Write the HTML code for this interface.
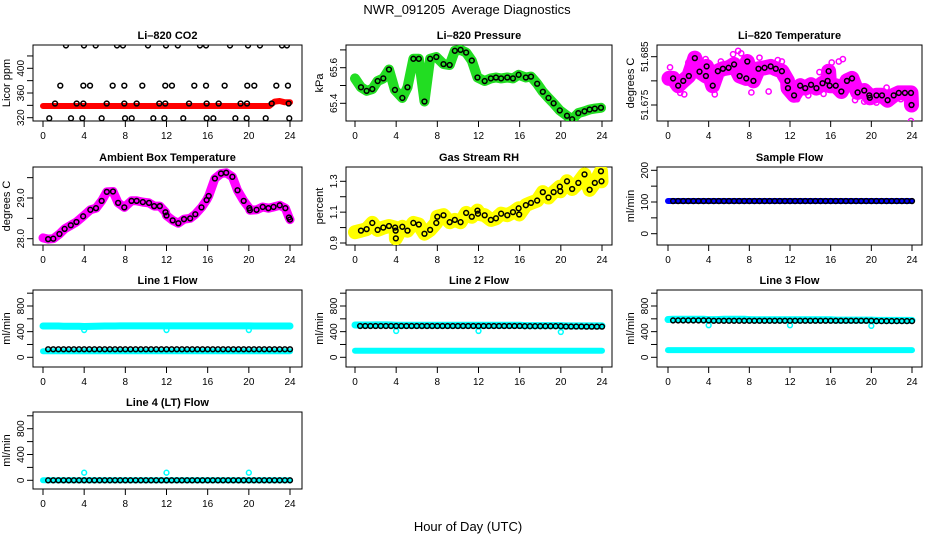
<!DOCTYPE html>
<html><head><meta charset="utf-8"><style>
html,body{margin:0;padding:0;background:#fff;}
svg{display:block;font-family:"Liberation Sans",Arial,sans-serif;}
</style></head><body>
<svg id="chart" width="936" height="540" viewBox="0 0 936 540" xmlns="http://www.w3.org/2000/svg">
<rect width="936" height="540" fill="#fff"/>
<text x="467" y="14" font-size="13" text-anchor="middle" style="white-space:pre">NWR_091205  Average Diagnostics</text>
<text x="468" y="531" font-size="13" text-anchor="middle">Hour of Day (UTC)</text>
</svg>
<script>
// ---------- data ----------
const xTicks = [0,4,8,12,16,20,24];
const halfHours = [0,0.5,1,1.5,2,2.5,3,3.5,4,4.5,5,5.5,6,6.5,7,7.5,8,8.5,9,9.5,10,10.5,11,11.5,12,12.5,13,13.5,14,14.5,15,15.5,16,16.5,17,17.5,18,18.5,19,19.5,20,20.5,21,21.5,22,22.5,23,23.5,24];

// CO2
const co2Red = [339,339,339,339,339,339,339,339,339,339,339,339,339,339,339,339,339,339,339,339,339,339,339,339,339,339,339,339,339,339,339,339,339,339,339,339,339,339,339,339,339,339,339,339,339,346,347,345,345];
const co2BlackHours = [2.23,3.98,5.12,7.19,7.77,10.2,11.95,13.1,15.25,15.84,18.17,19.92,21.08,23.22,23.7,
 1.68,3.92,4.57,6.77,7.9,9.65,11.88,12.53,14.7,15.84,17.65,19.85,20.53,22.67,23.8,
 1.17,3.27,3.92,6.19,7.9,9.1,11.3,11.88,14.19,15.9,17.07,19.2,19.82,22.22,23.87,
 0.61,2.72,3.82,5.7,7.97,8.62,10.72,11.79,13.63,15.9,16.55,18.69,19.79,21.64,23.93];
const co2BlackVals = [437,437,437,437,437,437,437,437,437,437,437,437,437,437,437,
 372,372,372,372,372,372,372,372,372,372,372,372,372,372,372,
 343,343,343,343,343,343,343,343,343,343,343,343,343,343,343,
 319,319,319,319,319,319,319,319,319,319,319,319,319,319,319];

// Pressure
const pressHours = [0,0.58,1.13,1.68,2.2,2.75,3.3,3.88,4.6,5.1,5.67,6.2,6.75,7.3,7.9,8.6,9.2,9.7,10.26,10.8,11.35,11.9,12.6,13.2,13.7,14.2,14.8,15.35,15.9,16.6,17.1,17.7,18.25,18.8,19.3,19.9,20.6,21.1,21.7,22.3,22.8,23.3,23.9];
const pressVals = [65.54,65.49,65.47,65.48,65.525,65.54,65.59,65.475,65.43,65.49,65.65,65.65,65.41,65.65,65.66,65.62,65.615,65.695,65.70,65.685,65.64,65.545,65.525,65.54,65.545,65.54,65.545,65.54,65.56,65.545,65.55,65.51,65.465,65.43,65.40,65.36,65.33,65.31,65.345,65.355,65.365,65.37,65.375];

// Li-820 temperature
const tempHours = [0.1,0.5,1.0,1.5,2.05,2.64,3.1,3.73,3.8,4.4,4.9,5.4,5.96,6.5,7.05,7.7,7.8,8.4,8.9,9.5,10.1,10.6,11.2,11.75,11.8,12.4,13.0,13.5,14.07,14.6,15.2,15.7,15.8,15.9,16.5,17.05,17.6,18.1,18.65,19.3,19.8,19.85,20.5,21.05,21.6,22.2,22.7,23.3,23.9,23.95];
const tempVals = [51.6805,51.6805,51.679,51.680,51.681,51.6847,51.6819,51.681,51.683,51.679,51.682,51.6825,51.6827,51.6834,51.681,51.6805,51.684,51.680,51.6825,51.6827,51.683,51.6825,51.682,51.680,51.6785,51.677,51.679,51.6785,51.6792,51.6785,51.6795,51.680,51.682,51.679,51.679,51.6778,51.680,51.6805,51.6776,51.678,51.677,51.6765,51.677,51.677,51.676,51.677,51.6775,51.6775,51.6775,51.675];
const tempOutHours = [2.85,3.7,6.4,6.9,7.2,9.0,16.1,17.2,19.3,20.5,23.9,0.2,4.6,12.7,1.2,2.0,5.2,8.2,10.8,13.8,14.9,18.4,21.5,22.9,1.6,4.1,9.9,11.2,15.3,16.8];
const tempOutVals = [51.6853,51.6845,51.6855,51.6862,51.6857,51.6848,51.6838,51.6845,51.6757,51.6755,51.6717,51.6828,51.6772,51.6762,51.6775,51.6838,51.6840,51.6776,51.6843,51.6770,51.6818,51.6760,51.6786,51.6762,51.6772,51.6835,51.6778,51.6840,51.6773,51.6840];

// Ambient box temperature
const ambHours = [0,0.5,1.0,1.6,2.1,2.7,3.25,3.9,4.6,5.15,5.7,6.2,6.8,7.3,7.9,8.6,9.1,9.7,10.3,10.8,11.35,11.9,12.0,12.6,13.15,13.7,14.3,14.8,15.4,15.9,16.1,16.7,17.3,17.8,18.4,18.9,19.5,20.05,20.1,20.75,21.35,21.9,22.4,23.0,23.55,23.9,24.0];
const ambVals = [28.02,27.99,28.0,28.115,28.24,28.33,28.41,28.55,28.71,28.75,28.93,29.15,29.16,28.88,28.77,28.93,28.93,28.9,28.88,28.80,28.80,28.65,28.57,28.45,28.38,28.48,28.5,28.6,28.77,28.95,29.05,29.48,29.6,29.62,29.52,29.19,28.93,28.75,28.70,28.71,28.78,28.75,28.78,28.82,28.75,28.52,28.47];

// Gas stream RH
const rhHours = [0,0.58,1.13,1.68,2.2,2.75,3.3,3.9,3.95,3.97,4.6,5.1,5.67,6.2,6.75,7.3,7.9,8.0,8.6,9.2,9.7,10.26,10.8,11.35,11.9,11.95,12.6,13.2,13.7,14.2,14.8,15.35,15.9,15.95,16.6,17.1,17.7,18.25,18.8,19.3,19.9,19.95,20.6,21.1,21.7,22.3,22.8,23.3,23.9,23.95];
const rhVals = [0.97,0.98,0.99,1.03,0.985,1.0,1.01,1.0,0.98,0.93,1.005,0.98,1.03,1.02,0.96,0.985,1.03,1.07,1.08,1.035,1.05,1.035,1.095,1.07,1.11,1.09,1.08,1.05,1.06,1.09,1.08,1.10,1.125,1.085,1.145,1.16,1.175,1.23,1.195,1.23,1.265,1.235,1.30,1.25,1.29,1.345,1.245,1.29,1.365,1.30];

// Flows (per half hour)
const sampleBlue  = [103,103,103,103,103,103,103,103,103,103,103,103,103,103,103,103,103,103,103,103,103,103,103,103,103,103,103,103,103,103,103,103,103,103,103,103,103,103,103,103,103,103,103,103,103,103,103,103,103];
const sampleBlack = [103,103,103,103,103,103,103,103,103,103,103,103,103,103,103,103,103,103,103,103,103,103,103,103,103,103,103,103,103,103,103,103,103,103,103,103,103,103,103,103,103,103,103,103,103,103,103,103,103];
const line1High  = [488,488,488,488,485,485,485,485,480,482,484,486,488,488,488,490,490,490,490,490,490,490,490,490,490,490,490,490,490,490,490,490,490,490,490,490,490,490,490,490,490,488,488,488,488,488,488,488,488];
const line1Low   = [93,93,93,93,93,93,93,93,93,93,93,93,93,93,93,93,93,93,93,93,93,93,93,93,93,93,93,93,93,93,93,93,93,93,93,93,93,93,93,93,93,93,93,93,93,93,93,93,93];
const line1Black = [125,125,125,125,125,125,125,125,125,125,125,125,125,125,125,125,125,125,125,125,125,125,125,125,125,125,125,125,125,125,125,125,125,125,125,125,125,125,125,125,125,125,125,125,125,125,125,125,125];
const line2High  = [503,503,503,503,505,505,505,503,500,500,500,500,500,500,500,500,500,500,500,500,500,500,500,500,500,500,500,500,500,500,500,500,500,495,495,495,495,495,495,495,495,490,490,490,490,490,490,490,490];
const line2Low   = [103,103,103,103,103,103,103,103,103,103,103,103,103,103,103,103,103,103,103,103,103,103,103,103,103,103,103,103,103,103,103,103,103,103,103,103,103,103,103,103,103,103,103,103,103,103,103,103,103];
const line2Black = [488,488,488,488,488,488,488,488,488,488,488,488,488,488,488,488,488,488,488,488,488,488,488,488,488,488,488,488,488,488,488,488,488,485,485,485,485,485,485,485,485,480,480,480,480,478,478,478,478];
const line3High  = [590,592,592,592,592,592,592,592,588,588,590,592,592,592,592,592,588,585,585,585,585,585,585,585,585,585,585,585,585,585,585,585,585,580,580,580,580,580,580,580,580,575,575,575,575,575,575,575,575];
const line3Low   = [113,113,113,113,113,113,113,113,113,113,113,113,113,113,113,113,113,113,113,113,113,113,113,113,113,113,113,113,113,113,113,113,113,113,113,113,113,113,113,113,113,113,113,113,113,113,113,113,113];
const line3Black = [575,575,575,575,575,575,575,575,575,570,570,570,570,570,570,570,570,570,570,570,570,570,570,570,570,570,570,570,570,570,570,570,570,570,570,570,570,570,570,570,570,565,565,565,565,565,565,565,565];
const line4Cyan  = [0,0,0,0,0,0,0,0,0,0,0,0,0,0,0,0,0,0,0,0,0,0,0,0,0,0,0,0,0,0,0,0,0,0,0,0,0,0,0,0,0,0,0,0,0,0,0,0,0];
const line4Black = [0,0,0,0,0,0,0,0,0,0,0,0,0,0,0,0,0,0,0,0,0,0,0,0,0,0,0,0,0,0,0,0,0,0,0,0,0,0,0,0,0,0,0,0,0,0,0,0,0];
const dipHours = [4,12,20];
const line1Dips = [425,425,425];
const line2Dips = [410,410,395];
const line3Dips = [500,500,490];
const line4Dips = [118,118,118];

// ---------- drawing ----------
const svg = document.getElementById('chart');
const NS = 'http://www.w3.org/2000/svg';
function mk(tag, attrs, parent){
  const e = document.createElementNS(NS, tag);
  for (const k in attrs) e.setAttribute(k, attrs[k]);
  (parent||svg).appendChild(e);
  return e;
}
const cols = [{x0:33,x1:302,h0:43,h24:290},{x0:346,x1:612,h0:355,h24:602},{x0:657,x1:922,h0:668,h24:912}];
const rows = [{y0:45,y1:121},{y0:167,y1:245},{y0:290,y1:367},{y0:412,y1:489}];

function panel(name, title, ylab, r, c, yA, pA, yB, pB, ticks, labels){
  const g = mk('g', {});
  
  
  const C = cols[c], R = rows[r];
  const X = h => C.h0 + (C.h24 - C.h0) * h / 24;
  const Y = v => pA + (pB - pA) * (v - yA) / (yB - yA);
  const box = mk('rect', {x:C.x0, y:R.y0, width:C.x1-C.x0, height:R.y1-R.y0, fill:'none', stroke:'#000', 'stroke-width':1}, g);
  
  
  const t = mk('text', {x:(C.x0+C.x1)/2, y:R.y0-6, 'font-size':11, 'font-weight':'bold', 'text-anchor':'middle'}, g);
  t.textContent = title;
  
  
  const yl = mk('text', {x:0, y:0, 'font-size':11, 'text-anchor':'middle', transform:`translate(${C.x0-23},${(R.y0+R.y1)/2}) rotate(-90)`}, g);
  yl.textContent = ylab;
  
  
  const xa = mk('g', {}, g);
  
  
  mk('line', {x1:X(0), x2:X(24), y1:R.y1, y2:R.y1, stroke:'#000'}, xa);
  xTicks.forEach(h => {
    mk('line', {x1:X(h), x2:X(h), y1:R.y1, y2:R.y1+6, stroke:'#000'}, xa);
    const tl = mk('text', {x:X(h), y:R.y1+18, 'font-size':10, 'text-anchor':'middle'}, xa);
    tl.textContent = h;
    
    
  });
  const ya = mk('g', {}, g);
  
  
  mk('line', {x1:C.x0, x2:C.x0, y1:Y(ticks[0]), y2:Y(ticks[ticks.length-1]), stroke:'#000'}, ya);
  ticks.forEach(v => mk('line', {x1:C.x0-6, x2:C.x0, y1:Y(v), y2:Y(v), stroke:'#000'}, ya));
  labels.forEach(v => {
    const tl = mk('text', {x:0, y:0, 'font-size':10, 'text-anchor':'middle', transform:`translate(${C.x0-9},${Y(Number(v))}) rotate(-90)`}, ya);
    tl.textContent = v;
    
    
  });
  const clip = 'clip' + r + c;
  const cp = mk('clipPath', {id:clip}, g);
  mk('rect', {x:C.x0, y:R.y0, width:C.x1-C.x0, height:R.y1-R.y0}, cp);
  const plot = mk('g', {'clip-path':`url(#${clip})`}, g);
  return {X, Y, plot};
}

function band(p, hours, vals, color, w, name){
  const pts = hours.map((h,i) => p.X(h).toFixed(1) + ',' + p.Y(vals[i]).toFixed(1)).join(' ');
  const pl = mk('polyline', {points:pts, fill:'none', stroke:color, 'stroke-width':w, 'stroke-linejoin':'round', 'stroke-linecap':'round'}, p.plot);
  
  
}
function dots(p, hours, vals, color, name, skipFirst, r){
  const g = mk('g', {}, p.plot);
  
  
  hours.forEach((h,i) => {
    if (skipFirst && i===0) return;
    const c = mk('circle', {cx:p.X(h), cy:p.Y(vals[i]), r:r||2.4, fill:'none', stroke:color, 'stroke-width':1.5}, g);
    
    
  });
}

// Row 1
let p = panel('panel-co2', 'Li\u2013820 CO2', 'Licor ppm', 0, 0, 320, 117.7, 400, 68.3, [320,340,360,380,400,420], ['320','360','400']);
band(p, halfHours, co2Red, '#ff0000', 6, 'co2-red-series');
dots(p, co2BlackHours, co2BlackVals, '#000', 'co2-black-points');

p = panel('panel-pressure', 'Li\u2013820 Pressure', 'kPa', 0, 1, 65.4, 103.3, 65.6, 67.7, [65.4,65.5,65.6,65.7], ['65.4','65.6']);
band(p, pressHours, pressVals, '#22dd22', 10, 'pressure-green-series');
dots(p, pressHours, pressVals, '#000', 'pressure-black-points', true);

p = panel('panel-li820-temp', 'Li\u2013820 Temperature', 'degrees C', 0, 2, 51.675, 105, 51.685, 56.7, [51.675,51.68,51.685], ['51.675','51.685']);
band(p, tempHours, tempVals, '#ff00ff', 15, 'li820-temp-magenta-series');
dots(p, tempOutHours, tempOutVals, '#ff00ff', 'li820-temp-magenta-outliers', false, 2.6);
dots(p, tempHours, tempVals, '#000', 'li820-temp-black-points', true);

// Row 2
p = panel('panel-ambient-temp', 'Ambient Box Temperature', 'degrees C', 1, 0, 28.0, 238.7, 29.0, 198, [28.0,28.5,29.0,29.5], ['28.0','29.0']);
band(p, ambHours, ambVals, '#ff00ff', 9, 'ambient-magenta-series');
dots(p, ambHours, ambVals, '#000', 'ambient-black-points', true);

p = panel('panel-rh', 'Gas Stream RH', 'percent', 1, 1, 0.9, 243, 1.3, 181.3, [0.9,1.0,1.1,1.2,1.3], ['0.9','1.1','1.3']);
band(p, rhHours, rhVals, '#ffff00', 14, 'rh-yellow-series');
dots(p, rhHours, rhVals, '#000', 'rh-black-points', true);

p = panel('panel-sample-flow', 'Sample Flow', 'ml/min', 1, 2, 0, 233.7, 200, 170.3, [0,50,100,150,200], ['0','100','200']);
band(p, halfHours, sampleBlue, '#0000ff', 6, 'sample-blue-series');
dots(p, halfHours, sampleBlack, '#000', 'sample-black-points', true);

// Row 3/4
const flowTicks = [0,200,400,600,800,1000], flowLabels = ['0','400','800'];
p = panel('panel-line1', 'Line 1 Flow', 'ml/min', 2, 0, 0, 357.3, 800, 306, flowTicks, flowLabels);
band(p, halfHours, line1High, '#00ffff', 7, 'line1-cyan-high');
band(p, halfHours, line1Low, '#00ffff', 6, 'line1-cyan-low');
dots(p, dipHours, line1Dips, '#00ffff', 'line1-cyan-dips');
dots(p, halfHours, line1Black, '#000', 'line1-black-points', true);

p = panel('panel-line2', 'Line 2 Flow', 'ml/min', 2, 1, 0, 357.3, 800, 306, flowTicks, flowLabels);
band(p, halfHours, line2High, '#00ffff', 7, 'line2-cyan-high');
band(p, halfHours, line2Low, '#00ffff', 6, 'line2-cyan-low');
dots(p, dipHours, line2Dips, '#00ffff', 'line2-cyan-dips');
dots(p, halfHours, line2Black, '#000', 'line2-black-points', true);

p = panel('panel-line3', 'Line 3 Flow', 'ml/min', 2, 2, 0, 357.3, 800, 306, flowTicks, flowLabels);
band(p, halfHours, line3High, '#00ffff', 7, 'line3-cyan-high');
band(p, halfHours, line3Low, '#00ffff', 6, 'line3-cyan-low');
dots(p, dipHours, line3Dips, '#00ffff', 'line3-cyan-dips');
dots(p, halfHours, line3Black, '#000', 'line3-black-points', true);

p = panel('panel-line4', 'Line 4 (LT) Flow', 'ml/min', 3, 0, 0, 480.3, 800, 428.7, flowTicks, flowLabels);
band(p, halfHours, line4Cyan, '#00ffff', 6, 'line4-cyan-series');
dots(p, dipHours, line4Dips, '#00ffff', 'line4-cyan-outliers');
dots(p, halfHours, line4Black, '#000', 'line4-black-points', true);
</script>
</body></html>
